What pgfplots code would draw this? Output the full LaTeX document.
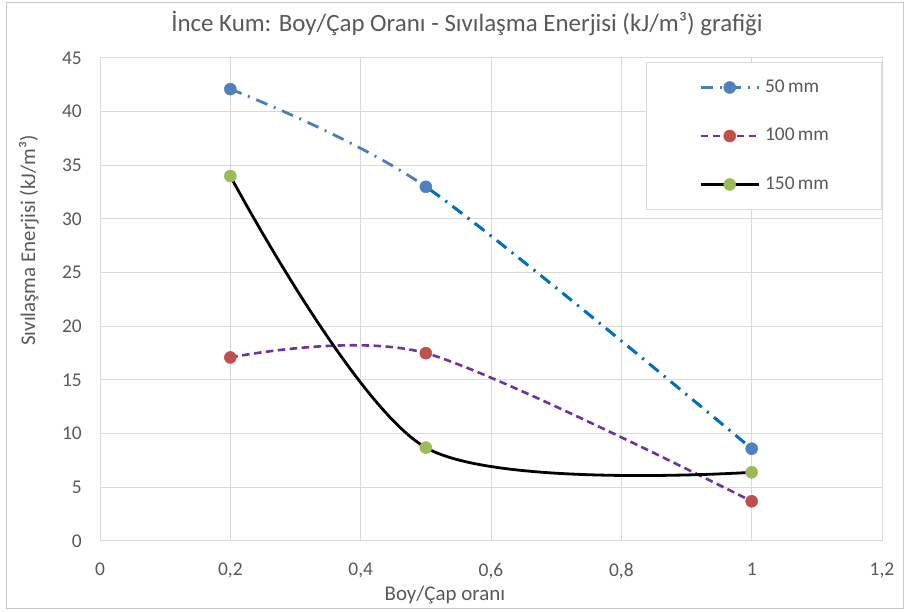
\documentclass[border=0pt]{standalone}
\usepackage{fontspec}
\setmainfont{Carlito}
\usepackage{pgfplots}
\pgfplotsset{compat=1.18}

\definecolor{txt}{HTML}{595959}
\definecolor{gridc}{HTML}{D9D9D9}
\definecolor{frame}{HTML}{C8C8C8}
\definecolor{s1}{HTML}{4A7EBB}
\definecolor{s1b}{HTML}{0070C0}
\definecolor{m1}{HTML}{4F81BD}
\definecolor{s2}{HTML}{7030A0}
\definecolor{m2}{HTML}{C0504D}
\definecolor{m3}{HTML}{9BBB59}

\tikzset{
  dashdotline/.style={dash pattern=on 12bp off 7bp on 2bp off 7bp},
  shortdash/.style={dash pattern=on 7.5bp off 4.5bp},
  dot/.style={mark=*, mark size=6bp, mark options={solid, line width=0.5pt, fill=#1, draw=#1}},
}

% values: length/diameter ratio vs. liquefaction energy
\pgfplotstableread{
x y
0.2 42.1
0.5 33.0
1.0 8.6
}\seriesA
\pgfplotstableread{
x y
0.2 17.1
0.5 17.5
1.0 3.7
}\seriesB
\pgfplotstableread{
x y
0.2 34.0
0.5 8.7
1.0 6.4
}\seriesC

\begin{document}
\begin{tikzpicture}[x=1bp,y=1bp]
\path[use as bounding box] (0,0) rectangle (905,612);
\fill[white] (0,0) rectangle (905,612);
\draw[frame, line width=1bp] (6,3.5) rectangle (903,609.5);
\node[txt, font=\fontsize{25}{29}\selectfont, anchor=base, inner sep=0pt] at (467,580) {İnce Kum: Boy/Çap Oranı - Sıvılaşma Enerjisi (kJ/m³) grafiği};
\begin{axis}[
  at={(100bp,71bp)}, anchor=south west,
  scale only axis, width=782bp, height=483bp,
  xmin=0, xmax=1.2, ymin=0, ymax=45,
  xtick={0,0.2,0.4,0.6,0.8,1,1.2},
  ytick={0,5,10,15,20,25,30,35,40,45},
  grid=major,
  grid style={gridc, line width=1bp},
  axis line style={gridc, line width=1bp},
  major tick length=0pt,
  /pgf/number format/.cd, use comma, assume math mode=true, /pgfplots/.cd,
  tick label style={txt, font=\fontsize{19.5}{23}\selectfont, inner sep=0pt},
  yticklabel style={anchor=east, xshift=-18bp},
  xticklabel style={anchor=north, yshift=-22bp},
  xlabel={Boy/Çap oranı},
  ylabel={Sıvılaşma Enerjisi (kJ/m³)},
  label style={txt, font=\fontsize{21}{25}\selectfont, inner sep=0pt},
  xlabel style={at={(rel axis cs:0.441,-0.1242)}, anchor=base},
  ylabel style={at={(rel axis cs:-0.0831,0.622)}, anchor=base},
  legend style={at={(rel axis cs:0.698,0.9917)}, anchor=north west,
    draw=gridc, line width=1bp, fill=white, text=txt,
    font=\fontsize{19.5}{23}\selectfont,
    inner xsep=53bp, inner ysep=16.5bp, row sep=31.5bp,
    nodes={inner sep=0pt, text height=13bp, text depth=4bp}},
  legend cell align=left,
  legend image code/.code={
    \draw[mark repeat=2, mark phase=2] plot coordinates {(0bp,0bp) (29bp,0bp) (58bp,0bp)};
  },
]
% 50 mm: second span drawn in a brighter blue
\addplot[s1, line width=2.8bp, dashdotline, smooth, no marks, forget plot] table {\seriesA};
\begin{scope}
  \clip (axis cs:0.5,0) rectangle (axis cs:1.2,45);
  \addplot[s1b, line width=2.8bp, dashdotline, smooth, no marks, forget plot] table {\seriesA};
\end{scope}
\addplot[s2, line width=2.6bp, shortdash, smooth, no marks, forget plot] table {\seriesB};
\addplot[black, line width=2.8bp, smooth, no marks, forget plot] table {\seriesC};
% markers on top
\addplot[only marks, dot=m1, forget plot] table {\seriesA};
\addplot[only marks, dot=m2, forget plot] table {\seriesB};
\addplot[only marks, dot=m3, forget plot] table {\seriesC};
% legend entries
\addlegendimage{s1, line width=2.8bp, dashdotline, dot=m1}
\addlegendentry{\hspace{5bp}50\,mm}
\addlegendimage{s2, line width=2.6bp, shortdash, dot=m2}
\addlegendentry{\hspace{5bp}100\,mm}
\addlegendimage{black, line width=2.8bp, dot=m3}
\addlegendentry{\hspace{5bp}150\,mm}
\end{axis}
\end{tikzpicture}
\end{document}
